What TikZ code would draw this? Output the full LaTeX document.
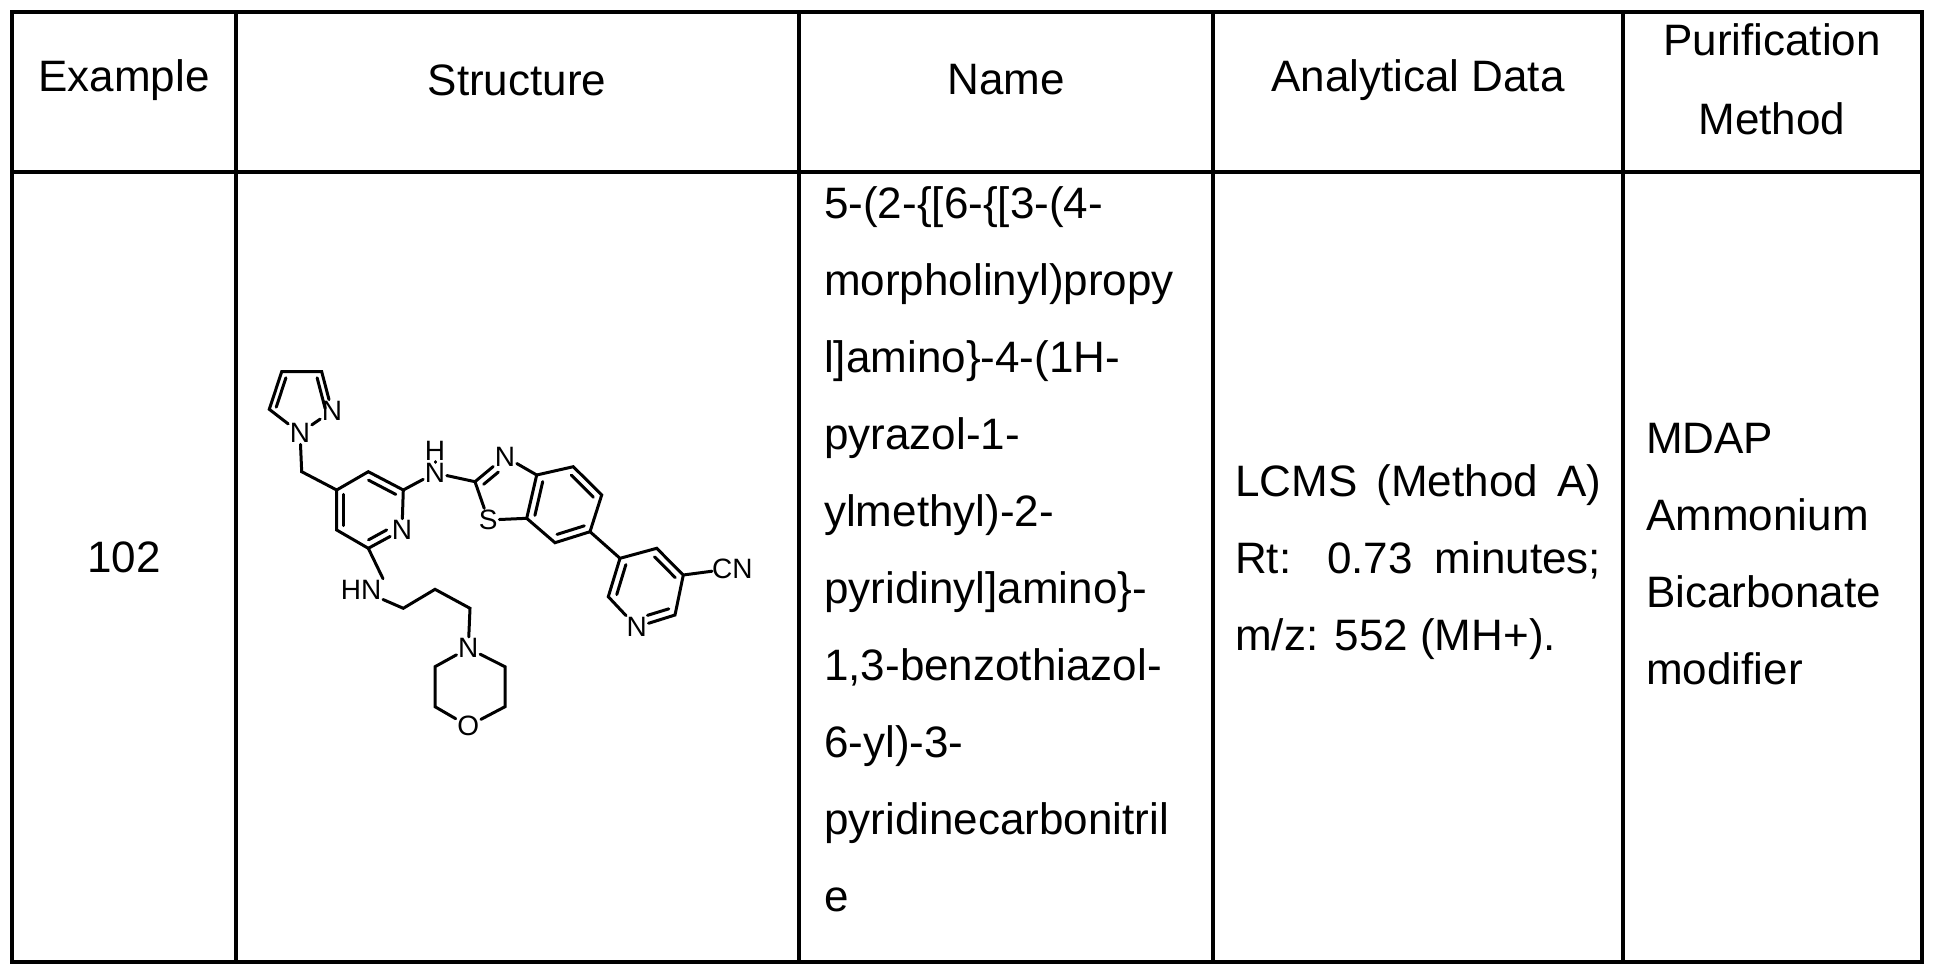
\documentclass[tikz,border=0pt]{standalone}
\usepackage{fontspec}
\setmainfont{Liberation Sans}
\usetikzlibrary{calc}
\begin{document}
\begin{tikzpicture}[x=1pt,y=-1pt,
  txt/.style={font=\fontsize{44}{52}\selectfont,inner sep=0pt},
  atom/.style={font=\fontsize{28}{30}\selectfont,inner sep=1.5pt},
  bond/.style={line width=3pt,line cap=round},
  grid/.style={line width=3.5pt}]
\useasboundingbox (0,0) rectangle (1936,977);
% table
\draw[grid] (12,12) rectangle (1922,962);
\draw[grid] (12,172) -- (1922,172);
\foreach \x in {236,799,1213,1623} \draw[grid] (\x,12) -- (\x,962);
% header
\node[txt] (h1) at (124,80) {Example};
\node[txt] (h2) at (517,80) {Structure};
\node[txt] (h3) at (1006,80) {Name};
\node[txt] (h4) at (1418,80) {Analytical Data};
\node[txt] (h5a) at (1772,40) {Purification};
\node[txt] (h5b) at (1772,119) {Method};
% body
\node[txt] (ex) at (124,557) {102};
\foreach \t [count=\i from 0] in {5-(2-\{[6-\{[3-(4-,morpholinyl)propy,l]amino\}-4-(1H-,pyrazol-1-,ylmethyl)-2-,pyridinyl]amino\}-,{1,3-benzothiazol-},6-yl)-3-,pyridinecarbonitril,e}
  \node[txt,anchor=base west] (nm\i) at (824,{218+77*\i}) {\t};
\node[txt,anchor=base west] (ad1) at (1235,496) {\makebox[366pt][s]{LCMS (Method A)}};
\node[txt,anchor=base west] (ad2) at (1235,573) {\makebox[366pt][s]{Rt: 0.73 minutes;}};
\node[txt,anchor=base west] (ad3) at (1235,650) {m/z: 552 (MH+).};
\foreach \t [count=\i from 0] in {MDAP,Ammonium,Bicarbonate,modifier}
  \node[txt,anchor=base west] (pm\i) at (1646,{453+77*\i}) {\t};
% ---- structure ----
\newcommand{\dbl}[3]{\draw[bond] ($(#3)!0.78!(#1)$) -- ($(#3)!0.78!(#2)$);}
% pyrazole
\coordinate (z5) at (269.3,409.3);
\coordinate (z4) at (281.7,371.7);
\coordinate (z3) at (321.7,371.7);
\node[atom] (z2) at (332,411) {N};
\node[atom] (z1) at (300,433) {N};
\coordinate (zc) at (300.9,399.5);
% pyridine A
\coordinate (ch2) at (301.7,471.7);
\coordinate (a4) at (336.7,490);
\coordinate (a3) at (368.3,471.7);
\coordinate (a2) at (403.3,490);
\node[atom] (a1) at (402,530) {N};
\coordinate (a1c) at (401.7,530);
\coordinate (a6) at (368.3,548.3);
\coordinate (a5) at (336.7,530);
\coordinate (ac) at (369.2,510);
% NH top
\node[atom] (nh) at (435,473) {N};
\node[atom] (hh) at (435,451) {H};
% benzothiazole
\coordinate (t2) at (475,481.7);
\node[atom] (t3) at (505,456.7) {N};
\node[atom] (ts) at (488.3,520) {S};
\coordinate (t3a) at (536.7,475);
\coordinate (t7a) at (526.7,518.3);
\coordinate (b4) at (573.3,466.7);
\coordinate (b5) at (601.7,495);
\coordinate (b6) at (590,531.7);
\coordinate (b7) at (555,542.7);
\coordinate (bc) at (564,505);
\coordinate (tc) at (506,491);
% pyridine B
\coordinate (p3) at (620,558.3);
\coordinate (p4) at (656.7,548.3);
\coordinate (p5) at (683.3,575);
\coordinate (p6) at (675,615);
\node[atom] (p1) at (636.7,627) {N};
\coordinate (p1c) at (636.7,626.7);
\coordinate (p2) at (608.3,596.7);
\coordinate (pc) at (646.7,587);
\node[atom,anchor=west,inner sep=0pt] (cn) at (712,568.5) {CN};
% lower chain
\node[atom,anchor=east] (hn) at (383,590) {HN};
\coordinate (c1) at (403.3,608.3);
\coordinate (c2) at (435,589.3);
\coordinate (c3) at (470,608.3);
\node[atom] (mn) at (468.3,648.3) {N};
\coordinate (m2) at (435,666.7);
\coordinate (m3) at (435,706.7);
\node[atom] (mo) at (468.3,726) {O};
\coordinate (m5) at (505,706.7);
\coordinate (m6) at (505,666.7);
% bonds
\draw[bond] (z1) -- (z5) -- (z4) -- (z3) -- (z2) -- (z1);
\dbl{z5}{z4}{zc}
\draw[bond] ($(zc)!0.78!(z3)$) -- ($(zc)!0.78!(z2)$);
\draw[bond] (z1) -- (ch2) -- (a4) -- (a3) -- (a2) -- (a1) -- (a6) -- (a5) -- (a4);
\dbl{a3}{a2}{ac}
\dbl{a4}{a5}{ac}
\draw[bond,shorten <=9pt] ($(ac)!0.78!(a1c)$) -- ($(ac)!0.78!(a6)$);
\draw[bond] (a2) -- (nh) -- (t2) -- (ts) -- (t7a) -- (t3a) -- (t3) -- (t2);
\draw[bond] (hh) -- (nh);
\draw[bond,shorten >=9pt] ($(tc)!0.72!(t2)$) -- ($(tc)!0.72!(t3.center)$);
\draw[bond] (t3a) -- (b4) -- (b5) -- (b6) -- (b7) -- (t7a);
\dbl{t3a}{t7a}{bc}
\dbl{b4}{b5}{bc}
\dbl{b6}{b7}{bc}
\draw[bond] (b6) -- (p3) -- (p4) -- (p5) -- (p6) -- (p1) -- (p2) -- (p3);
\dbl{p3}{p2}{pc}
\dbl{p4}{p5}{pc}
\draw[bond,shorten >=9pt] ($(pc)!0.78!(p6)$) -- ($(pc)!0.78!(p1c)$);
\draw[bond] (p5) -- (cn);
\draw[bond] (a6) -- (hn.north east |- hn.north) ;
\draw[bond] (hn) -- (c1) -- (c2) -- (c3) -- (mn) -- (m2) -- (m3) -- (mo) -- (m5) -- (m6) -- (mn);
\end{tikzpicture}
\end{document}
